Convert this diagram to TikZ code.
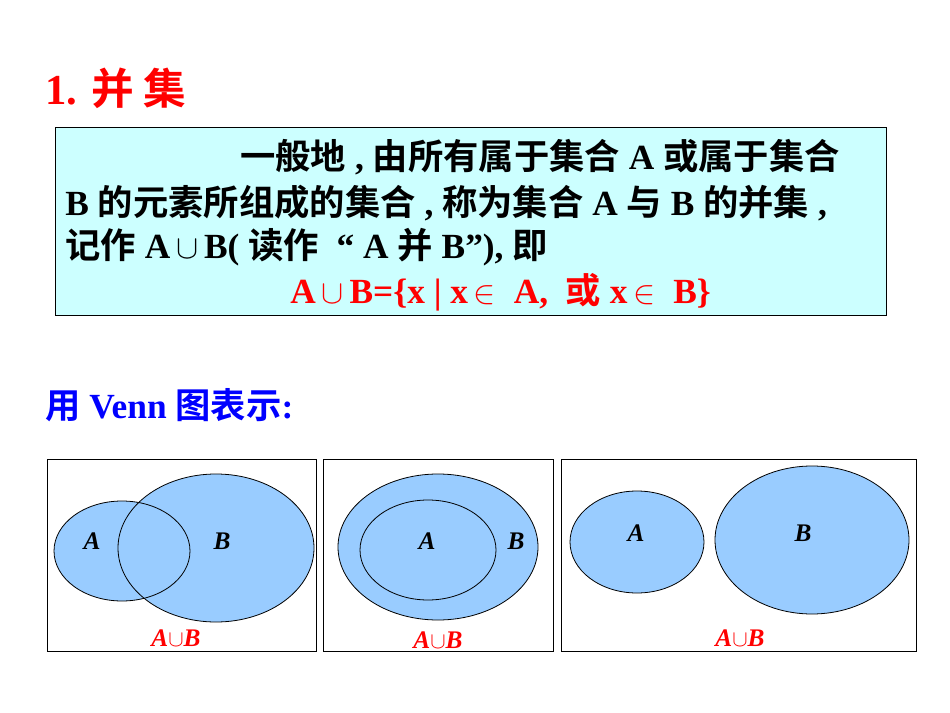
\documentclass[tikz,border=0pt]{standalone}
\usepackage{fontspec}
\setmainfont{Liberation Serif}
\newfontfamily\cjk{Noto Sans CJK SC}[BoldFont={Noto Sans CJK SC Bold}]
\definecolor{boxcyan}{HTML}{CCFFFF}
\definecolor{vennblue}{HTML}{99CCFF}
\definecolor{titlered}{HTML}{FF0000}
\definecolor{blue1}{HTML}{0000FF}
\begin{document}
\begin{tikzpicture}[x=0.75pt,y=-0.75pt,
  txt/.style={font=\fontsize{26.5}{30}\selectfont\bfseries, anchor=west, inner sep=0},
  lab/.style={font=\fontsize{19}{22}\selectfont\bfseries\itshape},
  ulab/.style={font=\fontsize{19}{22}\selectfont\bfseries\itshape, text=titlered},
  panel/.style={draw=black, line width=0.6pt},
  venn/.style={draw=black, fill=vennblue, line width=0.6pt}]
\useasboundingbox (0,0) rectangle (950,713);
\node[txt, anchor=west, text=titlered, font=\fontsize{32}{36}\selectfont\bfseries] (title) at (45,88) {1. {\cjk 并 集}};
\node[draw=black, fill=boxcyan, line width=0.6pt, minimum width=831*0.75pt, minimum height=188*0.75pt, anchor=north west, inner sep=0] (box) at (55,127) {};
\node[txt] (l1) at (240,157) {{\cjk 一般地}~,~{\cjk 由所有属于集合}~A~{\cjk 或属于集合}};
\node[txt] (l2) at (65,203) {B~{\cjk 的元素所组成的集合}~,~{\cjk 称为集合}~A~{\cjk 与}~B~{\cjk 的并集}~,};
\node[txt] (l3) at (65,247) {{\cjk 记作}~A\,$\cup$\,B(~{\cjk 读作}~~“~A~{\cjk 并}~B”),~{\cjk 即}};
\node[txt, text=titlered] (l4) at (290,292) {A\,$\cup$\,B=\{x~|~x\,$\in$~~A,~~{\cjk 或}~x\,$\in$~~B\}};
\node[txt, text=blue1] (venn) at (45,405) {{\cjk 用}~Venn~{\cjk 图表示}:};
% panels
\node[panel, minimum width=269*0.75pt, minimum height=192*0.75pt, anchor=north west, inner sep=0] (p1) at (47,459) {};
\node[panel, minimum width=230*0.75pt, minimum height=192*0.75pt, anchor=north west, inner sep=0] (p2) at (323,459) {};
\node[panel, minimum width=355*0.75pt, minimum height=192*0.75pt, anchor=north west, inner sep=0] (p3) at (561,459) {};
% panel 1
\fill[vennblue] (122,551) ellipse [x radius=68, y radius=50];
\fill[vennblue] (216,548) ellipse [x radius=98, y radius=74];
\draw[line width=0.6pt] (122,551) ellipse [x radius=68, y radius=50];
\draw[line width=0.6pt] (216,548) ellipse [x radius=98, y radius=74];
\node[lab] (a1) at (92,541) {A};
\node[lab] (b1) at (222,541) {B};
\node[ulab] (u1) at (176,638) {A$\cup$B};
% panel 2
\draw[venn] (438,547) ellipse [x radius=100, y radius=73];
\draw[line width=0.6pt] (428,550) ellipse [x radius=68, y radius=50];
\node[lab] (a2) at (427,541) {A};
\node[lab] (b2) at (516,541) {B};
\node[ulab] (u2) at (438,640) {A$\cup$B};
% panel 3
\draw[venn] (637,542) ellipse [x radius=67, y radius=51];
\draw[venn] (812,540) ellipse [x radius=97, y radius=74];
\node[lab] (a3) at (636,533) {A};
\node[lab] (b3) at (803,533) {B};
\node[ulab] (u3) at (740,638) {A$\cup$B};
\end{tikzpicture}
\end{document}
